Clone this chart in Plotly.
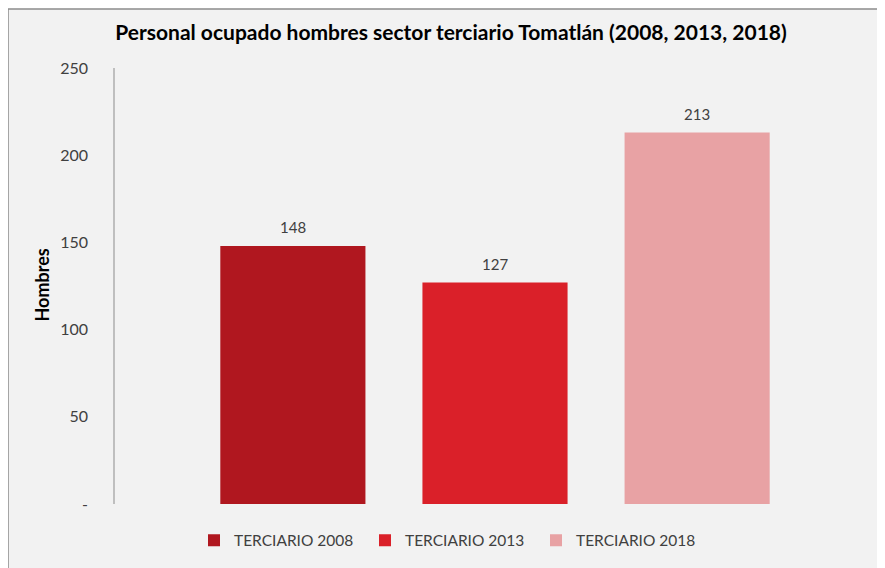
import plotly.graph_objects as go

series_names = ["TERCIARIO 2008", "TERCIARIO 2013", "TERCIARIO 2018"]
values = [148, 127, 213]
colors = ["#b0171f", "#da2029", "#e8a2a4"]
tick_vals = [0, 50, 100, 150, 200, 250]
tick_text = ["-", "50", "100", "150", "200", "250"]

FONT = "Lato"
OFF = 8  # page body margin
W, H = 877, 560
L, R, T, B = 107, 10, 60, 61
pw, ph = W - L - R, H - T - B


def px(xpage):
    return (xpage - OFF - L) / pw


def py(ypage):
    return (H - B - (ypage - OFF)) / ph


fig = go.Figure()
for name, v, c in zip(series_names, values, colors):
    fig.add_trace(go.Bar(
        x=[name], y=[v], name=name, marker=dict(color=c, line=dict(width=0)),
    ))

annotations = []
for name, v in zip(series_names, values):
    annotations.append(dict(
        x=name, y=v, xref="x", yref="y", text=str(v), showarrow=False,
        yanchor="middle", yshift=19,
        font=dict(family=FONT, size=15, color="#404040")))

annotations.append(dict(text="<b>Hombres</b>", textangle=-90, xref="paper", yref="paper",
                        x=px(42), y=py(287), showarrow=False, xanchor="center", yanchor="middle",
                        font=dict(family=FONT, size=18, color="#000000")))

fig.update_layout(
    width=W, height=H,
    margin=dict(l=L, r=R, t=T, b=B, pad=0),
    paper_bgcolor="white", plot_bgcolor="rgba(0,0,0,0)",
    barmode="overlay", bargap=0.282,
    font=dict(family=FONT, color="#404040"),
    title=dict(text="<b>Personal ocupado hombres sector terciario Tomatlán (2008, 2013, 2018)</b>",
               x=(451 - OFF) / W, xanchor="center", y=1 - (33 - OFF) / H, yanchor="middle",
               font=dict(family=FONT, size=21, color="#000000")),
    showlegend=True,
    legend=dict(orientation="h", x=px(194), xanchor="left", y=py(544), yanchor="middle",
                font=dict(family=FONT, size=15.5, color="#404040"),
                entrywidth=126, entrywidthmode="pixels", bgcolor="rgba(0,0,0,0)",
                itemclick=False, itemdoubleclick=False),
    xaxis=dict(type="category", showticklabels=False, showline=False, showgrid=False,
               zeroline=False, range=[-0.88, 2.88]),
    yaxis=dict(range=[0, 250], tickvals=tick_vals, ticktext=tick_text,
               showgrid=False, zeroline=False, showline=True, linecolor="#bfbfbf", linewidth=1.5,
               ticks="", ticklabelstandoff=22,
               tickfont=dict(family=FONT, size=16, color="#404040")),
    shapes=[dict(type="rect", xref="paper", yref="paper", layer="below",
                 x0=px(8), x1=px(900), y0=py(600), y1=py(8.5),
                 fillcolor="#f2f2f2", line=dict(color="#8c8c8c", width=1.5))],
    annotations=annotations,
)

fig.write_html("out.html")
